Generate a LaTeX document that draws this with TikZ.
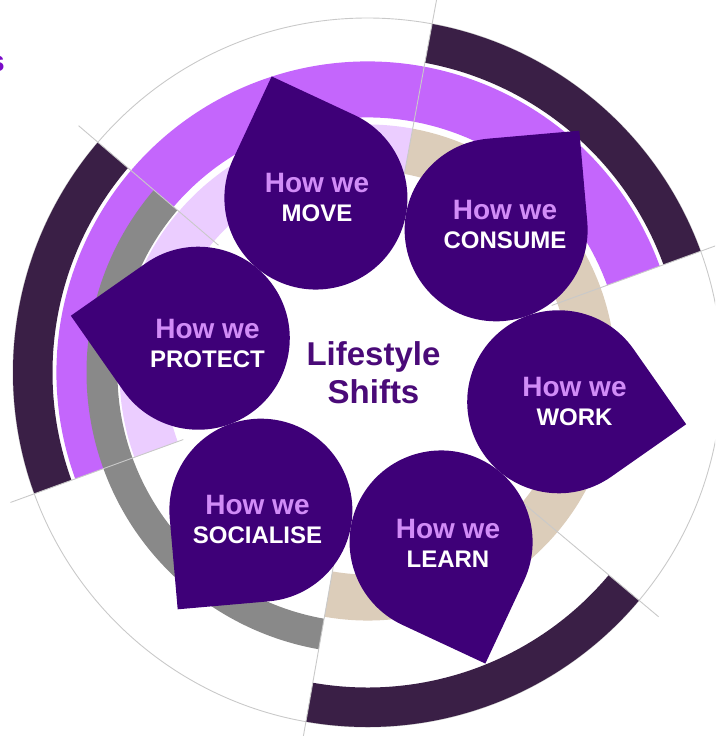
\documentclass[tikz,border=0pt]{standalone}
\usepackage{fontspec}
\setmainfont{Liberation Sans}

\definecolor{ringdark}{HTML}{3A1F46}
\definecolor{ringpurple}{HTML}{C466FC}
\definecolor{ringgray}{HTML}{898989}
\definecolor{ringbeige}{HTML}{DCCDBA}
\definecolor{ringlilac}{HTML}{EBCDFF}
\definecolor{guidegray}{HTML}{C9C9C9}
\definecolor{dropviolet}{HTML}{3E0078}
\definecolor{howpink}{HTML}{D18CF7}
\definecolor{hubpurple}{HTML}{4A0A78}
\definecolor{titlepurple}{HTML}{7A0BC8}

\begin{document}
\begin{tikzpicture}[x=1pt,y=1pt,
    guide/.style={draw=guidegray,line width=0.9pt},
    drop/.style={fill=dropviolet},
    caption/.style={text=white,align=center,inner sep=0pt,
      font=\bfseries\fontsize{24}{29}\selectfont},
    hub/.style={text=hubpurple,align=center,inner sep=0pt,
      font=\bfseries\fontsize{33}{38}\selectfont}]
  \useasboundingbox (-367.5,-363.5) rectangle (347.5,372.5);
  \clip (-367.5,-363.5) rectangle (347.5,372.5);

  % thin outer circle
  \draw[guide] (0,0) circle (354.5);

  % ring segments: from/to angle, inner/outer radius, colour
  \foreach \from/\to/\rin/\rout/\col in {260/439.5/202/248/ringbeige,
      79.5/200/202/248/ringlilac, 20/200/255/311/ringpurple,
      139.5/260/250/281/ringgray, 20/79.5/315/354.5/ringdark,
      139.5/200/315/354.5/ringdark, 260/320/315/354.5/ringdark}
    \fill[fill=\col] (\from:\rout) arc[start angle=\from,end angle=\to,radius=\rout]
      -- (\to:\rin) arc[start angle=\to,end angle=\from,radius=\rin] -- cycle;

  % spokes between the segments
  \foreach \a in {20,79.5,139.5,200,260,320}
    \draw[guide] (\a:196) -- (\a:380);

  % six drops, point turned outwards
  \begin{scope}[shift={(11,2.5)}]
    \foreach \a/\n in {110/move,50/consume,-10/work,-70/learn,-130/socialise,170/protect}{
      \begin{scope}[shift={(\a:183)}]
        \coordinate (\n) at (0,0);
        \fill[drop] (\a+45:91.5) arc[start angle=\a+45,end angle=\a+315,radius=91.5]
          -- (\a:129.4) -- cycle;
      \end{scope}
    }
  \end{scope}

  % labels
  \foreach \x/\y/\n/\txt in {-50.5/175/move/MOVE, 137.5/148.5/consume/CONSUME,
      207/-29/work/WORK, 80.5/-170.5/learn/LEARN,
      -110/-146.5/socialise/SOCIALISE, -160/29.5/protect/PROTECT}
    \node[caption] (\n-label) at (\x,\y)
      {{\color{howpink}\fontsize{28}{29}\selectfont How we}\\\txt};

  \node[hub] (shifts) at (6,-0.5) {Lifestyle\\Shifts};

  \node[anchor=base east,inner sep=0pt,text=titlepurple,
    font=\bfseries\fontsize{29}{29}\selectfont] (title) at (-362.5,300.5) {s};
\end{tikzpicture}
\end{document}
